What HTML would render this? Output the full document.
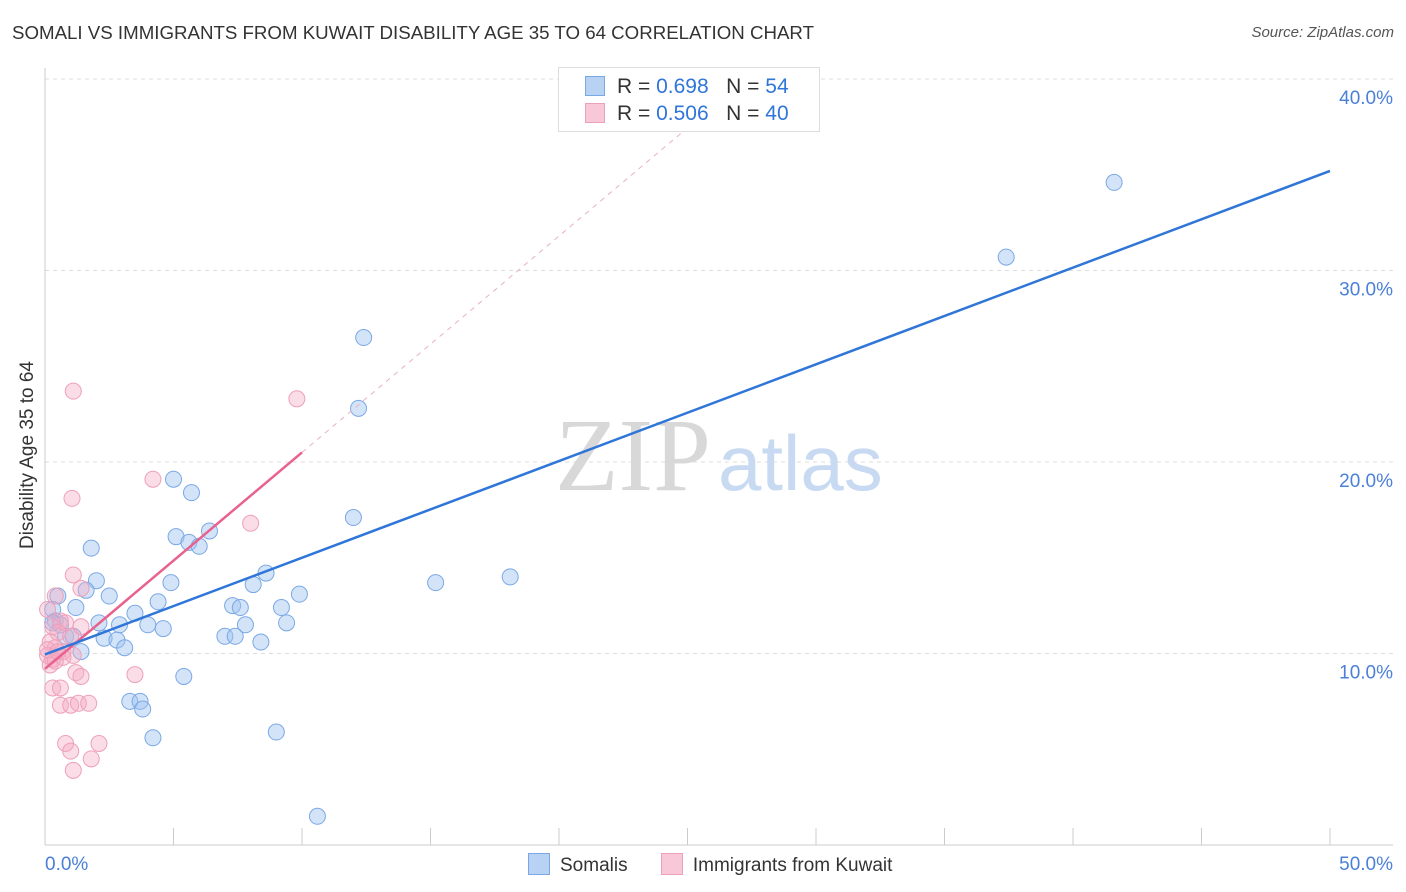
<!DOCTYPE html>
<html><head><meta charset="utf-8"><style>
body{margin:0;background:#fff;font-family:"Liberation Sans",sans-serif;}
#wrap{position:relative;width:1406px;height:892px;overflow:hidden;}
.t{position:absolute;white-space:nowrap;}
</style></head><body>
<div id="wrap">
<div class="t" style="left:12px;top:22px;font-size:18.7px;color:#333;">SOMALI VS IMMIGRANTS FROM KUWAIT DISABILITY AGE 35 TO 64 CORRELATION CHART</div>
<div class="t" style="right:12px;top:24px;font-size:15px;color:#555;font-style:italic;">Source: ZipAtlas.com</div>
<div class="t" style="left:-72px;top:444px;font-size:19px;color:#333;transform:rotate(-90deg);width:200px;text-align:center;">Disability Age 35 to 64</div>
<svg id="svg" width="1406" height="892" style="position:absolute;left:0;top:0"></svg>
</div>
<script>
const xTicks=[0,5,10,15,20,25,30,35,40,45,50];
const yTicks=[10,20,30,40];
const blueX=[41.6,37.4,12.4,12.2,5.0,5.7,12.0,6.4,5.1,5.6,6.0,1.8,15.2,18.1,2.0,4.9,8.1,8.6,1.6,2.5,0.5,9.9,4.4,7.3,7.6,9.2,1.2,0.3,3.5,0.4,2.1,2.9,4.0,7.8,9.4,4.6,0.6,0.8,1.1,2.3,2.8,7.0,7.4,8.4,3.1,1.4,5.4,3.3,3.7,3.8,4.2,9.0,10.6,0.3];
const blueY=[34.6,30.7,26.5,22.8,19.1,18.4,17.1,16.4,16.1,15.8,15.6,15.5,13.7,14.0,13.8,13.7,13.6,14.2,13.3,13.0,13.0,13.1,12.7,12.5,12.4,12.4,12.4,12.3,12.1,11.7,11.6,11.5,11.5,11.5,11.6,11.3,11.5,10.9,10.9,10.8,10.7,10.9,10.9,10.6,10.3,10.1,8.8,7.5,7.5,7.1,5.6,5.9,1.5,11.6];
const pinkX=[1.1,9.8,1.05,4.2,8.0,1.1,1.4,0.4,0.1,0.6,0.8,0.3,1.4,0.5,1.0,0.2,0.4,0.7,0.1,1.1,0.3,0.7,0.2,0.4,1.2,1.4,3.5,0.3,0.6,0.6,1.0,1.3,1.7,0.8,2.1,1.0,1.8,1.1,0.1,0.5];
const pinkY=[23.7,23.3,18.1,19.1,16.8,14.1,13.4,13.0,12.3,11.7,11.6,11.4,11.4,11.1,10.9,10.6,10.3,10.1,9.9,9.9,9.7,9.8,9.4,9.6,9.0,8.8,8.9,8.2,8.2,7.3,7.3,7.4,7.4,5.3,5.3,4.9,4.5,3.9,10.2,10.1];
const blueLine=[0,9.95,50,35.2];
const pinkLine=[0,9.2,10,20.5];
const NS="http://www.w3.org/2000/svg";
const svg=document.getElementById('svg');
const sx=v=>45+v*25.7, sy=v=>845-v*19.15;
function mk(tag,attrs){const e=document.createElementNS(NS,tag);for(const k in attrs)e.setAttribute(k,attrs[k]);svg.appendChild(e);return e;}
yTicks.forEach(v=>{
 const g=mk('line',{x1:45,x2:1393,y1:sy(v),y2:sy(v),stroke:'#ddd','stroke-dasharray':'4,4'});
 
 
 const t=mk('text',{x:1393,y:sy(v)+25,'text-anchor':'end','font-size':19,fill:'#4a80d8','font-family':'Liberation Sans'});
 t.textContent=v.toFixed(1)+'%';
 
 
});
let a=mk('line',{x1:45,x2:45,y1:68,y2:845,stroke:'#ccc'});


a=mk('line',{x1:45,x2:1393,y1:845,y2:845,stroke:'#ccc'});


xTicks.forEach(v=>{
 const l=mk('line',{x1:sx(v),x2:sx(v),y1:828,y2:845,stroke:'#ccc'});
 
 
});
[[0,'start'],[50,'end']].forEach(([v,anc])=>{
 const t=mk('text',{x:v===0?45:1393,y:870,'text-anchor':anc,'font-size':19,fill:'#4a80d8','font-family':'Liberation Sans'});
 t.textContent=v.toFixed(1)+'%';
 
 
});
let w=mk('text',{x:555,y:490,'font-size':104,fill:'#d8d8d8','font-family':'Liberation Serif'});w.textContent='ZIP';


w=mk('text',{x:718,y:490,'font-size':78,fill:'#c8daf2','font-family':'Liberation Sans'});w.textContent='atlas';


function pts(xs,ys,fill,stroke,name){xs.forEach((x,i)=>{
 const c=mk('circle',{cx:sx(x),cy:sy(ys[i]),r:8,fill:fill,stroke:stroke,'stroke-width':1});
 
 
});}
pts(blueX,blueY,'rgba(160,196,240,0.45)','#7aa8e6','somali-point');
pts(pinkX,pinkY,'rgba(245,170,195,0.4)','#eda0ba','kuwait-point');
const slopeP=(pinkLine[3]-pinkLine[1])/(pinkLine[2]-pinkLine[0]);
const xe=(39.4-pinkLine[1])/slopeP;
let l=mk('line',{x1:sx(pinkLine[2]),y1:sy(pinkLine[3]),x2:sx(xe),y2:sy(39.4),stroke:'#e8b0c4','stroke-dasharray':'5,5','stroke-width':1});


l=mk('line',{x1:sx(pinkLine[0]),y1:sy(pinkLine[1]),x2:sx(pinkLine[2]),y2:sy(pinkLine[3]),stroke:'#e8628e','stroke-width':2.5});


l=mk('line',{x1:sx(blueLine[0]),y1:sy(blueLine[1]),x2:sx(blueLine[2]),y2:sy(blueLine[3]),stroke:'#2f76d8','stroke-width':2.5});


</script>
<div class="t" style="left:558px;top:67px;width:260px;height:63px;border:1px solid #ddd;background:#fff;font-size:21px;color:#333;">
 <div style="position:absolute;left:26px;top:7px;"><span style="display:inline-block;width:18px;height:18px;background:#b8d2f4;border:1px solid #7aa8e6;vertical-align:-3px;margin-right:12px;"></span>R = <span style="color:#2f76d8">0.698</span>&nbsp;&nbsp;&nbsp;N = <span style="color:#2f76d8">54</span></div>
 <div style="position:absolute;left:26px;top:34px;"><span style="display:inline-block;width:18px;height:18px;background:#f8c8d8;border:1px solid #eda0ba;vertical-align:-3px;margin-right:12px;"></span>R = <span style="color:#2f76d8">0.506</span>&nbsp;&nbsp;&nbsp;N = <span style="color:#2f76d8">40</span></div>
</div>
<div class="t" style="left:528px;top:853px;font-size:19px;color:#333;">
 <span><span style="display:inline-block;width:20px;height:20px;background:#b8d2f4;border:1px solid #7aa8e6;vertical-align:-4px;margin-right:10px;"></span>Somalis</span>
 <span style="margin-left:28px;"><span style="display:inline-block;width:20px;height:20px;background:#f8c8d8;border:1px solid #eda0ba;vertical-align:-4px;margin-right:10px;"></span>Immigrants from Kuwait</span>
</div>
</body></html>
